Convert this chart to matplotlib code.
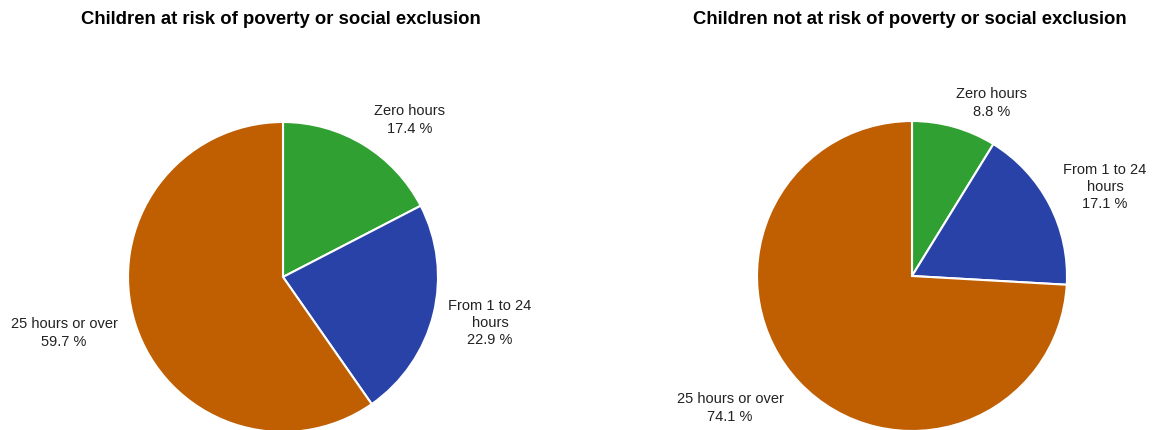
import matplotlib.pyplot as plt

plt.rcParams['font.family'] = ['Liberation Sans', 'DejaVu Sans']

categories = ['Zero hours', 'From 1 to 24\nhours', '25 hours or over']
at_risk = [17.4, 22.9, 59.7]
not_at_risk = [8.8, 17.1, 74.1]
titles = ['Children at risk of poverty or social exclusion',
          'Children not at risk of poverty or social exclusion']

colors = ['#31a033', '#2842a8', '#c05e02']

W, H = 1154, 430
fig = plt.figure(figsize=(W / 100, H / 100), dpi=100)
ax = fig.add_axes([0, 0, 1, 1])

def py(y):
    # pixel row (from top) to data y
    return H - y

def draw_pie(values, cx, cy, title, label_pos):
    ax.pie(values, colors=colors, startangle=90, counterclock=False,
           center=(cx, py(cy)), radius=155,
           wedgeprops=dict(edgecolor='white', linewidth=1.5))
    ax.text(cx - 2, py(20), title, ha='center', va='center',
            fontsize=13.3, fontweight='bold', color='black')
    for cat, val, (lx, ly) in zip(categories, values, label_pos):
        ax.text(lx, py(ly), '%s\n%.1f %%' % (cat, val), ha='center',
                va='center', fontsize=10.5, color='#222222',
                linespacing=1.3)

draw_pie(at_risk, 283, 277, titles[0],
         [(410, 120), (490, 323), (64, 333)])
draw_pie(not_at_risk, 912, 276, titles[1],
         [(992, 103), (1105, 187), (730, 408)])

ax.set_xlim(0, W)
ax.set_ylim(0, H)
ax.set_aspect('equal')
ax.axis('off')

fig.savefig('out.png', dpi=100, facecolor='white')
